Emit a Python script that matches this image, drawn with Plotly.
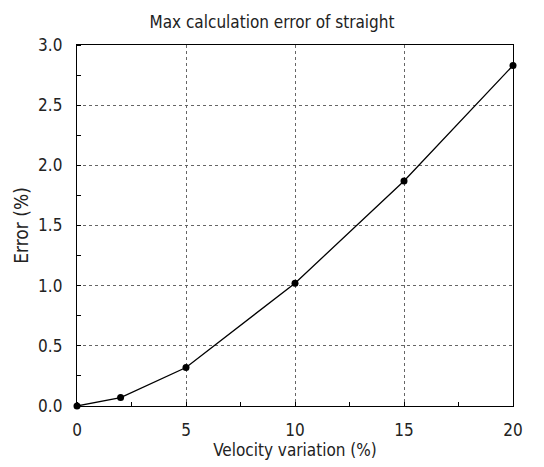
import plotly.graph_objects as go

velocity = [0, 2, 5, 10, 15, 20]
error = [0.0, 0.07, 0.32, 1.02, 1.87, 2.83]
x_ticks = [0, 5, 10, 15, 20]
y_ticks = [0.0, 0.5, 1.0, 1.5, 2.0, 2.5, 3.0]

font_family = "DejaVu Sans Condensed, Liberation Sans Narrow, sans-serif"

fig = go.Figure()
fig.add_trace(go.Scatter(
    x=velocity, y=error, mode="lines+markers",
    line=dict(color="black", width=1.3),
    marker=dict(color="black", size=7),
    cliponaxis=False, showlegend=False,
))

fig.update_layout(
    width=544, height=467,
    margin=dict(l=77, r=31, t=45, b=61),
    paper_bgcolor="white", plot_bgcolor="white",
    font=dict(family=font_family, color="#222", size=17),
    title=dict(text="Max calculation error of straight", x=0.5, xanchor="center",
               y=1 - 22 / 467, yanchor="middle", font=dict(size=17, color="#222")),
)
fig.update_xaxes(
    range=[0, 20], tickvals=x_ticks, ticktext=[str(v) for v in x_ticks],
    showline=True, linecolor="black", linewidth=1.3, mirror=True,
    showgrid=True, gridcolor="#666", griddash="dot", gridwidth=1,
    ticks="outside", ticklen=8, tickcolor="rgba(0,0,0,0)",
    minor=dict(dtick=2.5, ticks="inside", ticklen=4, tickcolor="black", showgrid=False),
    zeroline=False,
    title=dict(text="Velocity variation (%)", standoff=0, font=dict(size=17)),
)
fig.update_yaxes(
    range=[0, 3], tickvals=y_ticks, ticktext=[f"{v:.1f}" for v in y_ticks],
    showline=True, linecolor="black", linewidth=1.3, mirror=True,
    showgrid=True, gridcolor="#666", griddash="dot", gridwidth=1,
    ticks="outside", ticklen=10, tickcolor="rgba(0,0,0,0)",
    minor=dict(dtick=0.25, ticks="inside", ticklen=4, tickcolor="black", showgrid=False),
    zeroline=False,
    title=dict(text="Error (%)", standoff=4, font=dict(size=19)),
)

fig.write_html("out.html")
